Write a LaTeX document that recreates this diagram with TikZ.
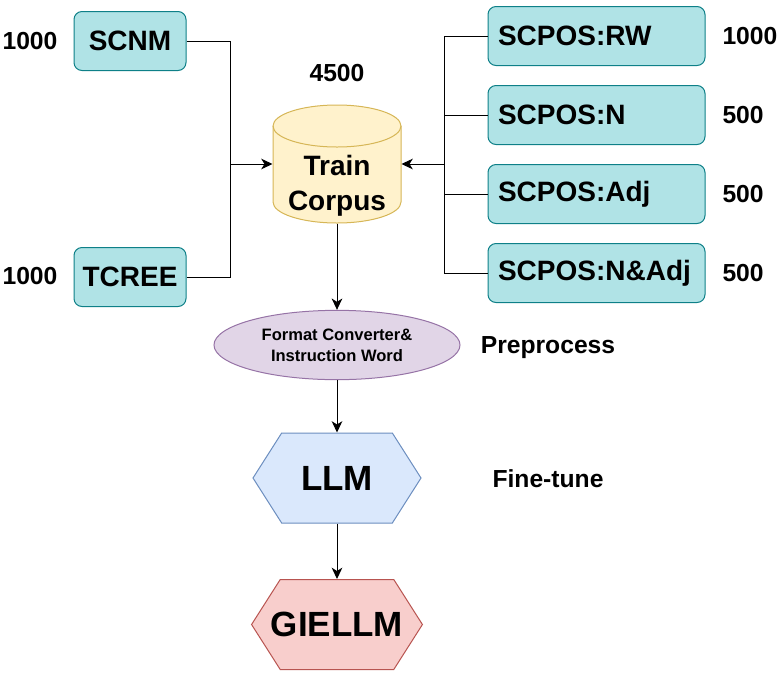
\documentclass[tikz,border=0pt]{standalone}
\usepackage{fontspec}
\setmainfont{Liberation Sans}
\usetikzlibrary{arrows.meta,shapes.geometric,shapes.symbols}
\definecolor{boxfill}{HTML}{B0E3E6}
\definecolor{boxline}{HTML}{0E8088}
\definecolor{dbfill}{HTML}{FFF2CC}
\definecolor{dbline}{HTML}{D6B656}
\definecolor{convfill}{HTML}{E1D5E7}
\definecolor{convline}{HTML}{9673A6}
\definecolor{llmfill}{HTML}{DAE8FC}
\definecolor{llmline}{HTML}{6C8EBF}
\definecolor{outfill}{HTML}{F8CECC}
\definecolor{outline}{HTML}{B85450}

\begin{document}
\begin{tikzpicture}[x=0.75pt,y=-0.75pt,line width=0.75pt,
  srcbox/.style={draw=boxline,fill=boxfill,rounded corners=6pt,minimum width=84pt,
    minimum height=44.25pt,inner sep=0pt,font=\bfseries\fontsize{21}{24}\selectfont},
  posbox/.style={srcbox,minimum width=162.75pt,text width=147.75pt,align=left},
  count/.style={inner sep=0pt,font=\bfseries\fontsize{18.5}{22}\selectfont},
  hexa/.style={shape=signal,signal to=west and east,signal pointer angle=115,
    minimum width=126pt,minimum height=67.5pt,inner ysep=0pt,inner xsep=-7pt,
    font=\bfseries\fontsize{26.25}{30}\selectfont},
  arr/.style={-{Stealth[length=8.5pt,width=8pt,inset=2.5pt]}}]
  \useasboundingbox (0,0) rectangle (783,683);

  % sources on the left
  \node[srcbox] (scnm) at (130,41) {SCNM};
  \node[srcbox] (tcree) at (130,277) {TCREE};
  \node[count] at (30,41) {1000};
  \node[count] at (30,276) {1000};

  % sources on the right
  \node[posbox] (rw) at (596.5,36) {SCPOS:RW};
  \node[posbox] (pn) at (596.5,115) {SCPOS:N};
  \node[posbox] (padj) at (596.5,194) {SCPOS:Adj};
  \node[posbox] (pnadj) at (596.5,273) {SCPOS:N\&Adj};
  \node[count,anchor=west] at (722,36) {1000};
  \foreach \y in {115,194,273}{
    \node[count,anchor=west] at (722,\y) {500};
  }

  % train corpus
  \draw[fill=dbfill,draw=dbline] (273,126) -- (273,202)
    arc[start angle=180,end angle=0,x radius=64,y radius=21] -- (401,126)
    arc[start angle=0,end angle=-180,x radius=64,y radius=21] -- cycle;
  \draw[dbline] (273,126) arc[start angle=180,end angle=0,x radius=64,y radius=21];
  \node[minimum width=96pt,minimum height=88.5pt,inner sep=0pt] (corpus) at (337,164) {};
  \node[align=center,inner sep=0pt,font=\bfseries\fontsize{21}{26.25}\selectfont] at (337,186) {Train\\Corpus};
  \node[count] at (337,73) {4500};

  % pipeline
  \node[ellipse,draw=convline,fill=convfill,minimum width=184.5pt,minimum height=52pt,
    inner sep=0pt,align=center,font=\bfseries\fontsize{12.4}{15.75}\selectfont]
    (conv) at (337,345) {Format Converter\&\\Instruction Word};
  \node[hexa,draw=llmline,fill=llmfill] (llm) at (337,478) {LLM};
  \node[hexa,draw=outline,fill=outfill] (giellm) at (337,624.5) {GIELLM};
  \node[count] at (548,348) {Preprocess};
  \node[count] at (548,479) {Fine-tune};

  % connectors
  \coordinate (jl) at (230,164);
  \coordinate (jr) at (444,164);
  \draw (scnm.east) -| (jl);
  \draw (tcree.east) -| (jl);
  \draw[arr] (jl) -- (corpus.west);
  \foreach \b in {rw,pn,padj,pnadj}{
    \draw (\b.west) -| (jr);
  }
  \draw[arr] (jr) -- (corpus.east);
  \draw[arr] (corpus.south) -- (conv.north);
  \draw[arr] (conv.south) -- (llm.north);
  \draw[arr] (llm.south) -- (giellm.north);
\end{tikzpicture}
\end{document}
